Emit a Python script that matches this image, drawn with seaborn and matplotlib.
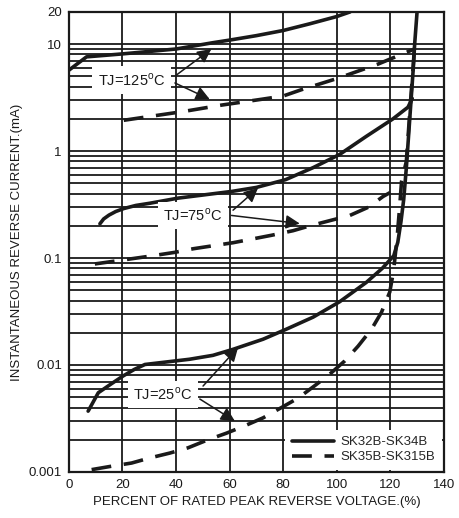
import pandas as pd
import seaborn as sns
import matplotlib.pyplot as plt
from matplotlib.ticker import LogLocator, FixedLocator, NullFormatter, FixedFormatter

# percent of rated peak reverse voltage / reverse current (mA)
x_25_solid = [7.2, 11, 16, 20.3, 24.5, 28.4, 45, 53.8, 61.3, 72.5, 81.2, 91.2, 101.1, 111, 117, 121.3,
              122.8, 124, 125, 126, 127, 127.8, 128.6, 129.1, 130]
y_25_solid = [0.0037, 0.0055, 0.0067, 0.0079, 0.0091, 0.0101, 0.0113, 0.0123, 0.014, 0.0174, 0.0216, 0.028,
              0.039, 0.059, 0.08, 0.105,
              0.14, 0.22, 0.35, 0.7, 1.6, 3.1, 6.0, 10, 20]

x_75_solid = [11.6, 13, 15, 17.5, 20.5, 25, 30.2, 40.8, 61, 70, 80.9, 91.2, 101.1, 111, 121, 126.6, 128.2]
y_75_solid = [0.209, 0.232, 0.252, 0.272, 0.29, 0.31, 0.325, 0.363, 0.42, 0.457, 0.54, 0.70, 0.93, 1.37,
              2.0, 2.57, 3.1]

x_125_solid = [0, 6.6, 20, 40, 53.7, 60, 70, 80, 90, 100, 105]
y_125_solid = [5.7, 7.6, 8.1, 9.0, 10.3, 10.9, 12.0, 13.4, 15.5, 18.1, 20]

x_25_dash = [8.5, 15.9, 23.4, 30.2, 37.7, 44.5, 52, 58.8, 65.7, 72.5, 79.4, 85.6, 91.8, 97.4, 103, 108,
             113, 116.7, 119.8, 121.2, 122.5, 123.5, 124.2, 126, 127.6, 128.5, 129]
y_25_dash = [0.00105, 0.00113, 0.00121, 0.00135, 0.0015, 0.00168, 0.002, 0.0023, 0.0027, 0.0032, 0.004, 0.0049,
             0.0064, 0.0082, 0.0109, 0.015, 0.0216, 0.031, 0.048, 0.075, 0.15, 0.3, 0.52, 0.8, 3.0, 6.0, 9.0]

x_75_dash = [9.7, 30.2, 39.6, 46.4, 61.3, 75.6, 83.7, 90, 104.9, 112, 117.3, 120]
y_75_dash = [0.088, 0.104, 0.113, 0.122, 0.139, 0.163, 0.18, 0.2, 0.25, 0.3, 0.376, 0.41]

x_125_dash = [20.5, 42.6, 57, 72, 80, 87, 100.5, 115.4, 129]
y_125_dash = [1.94, 2.34, 2.69, 3.05, 3.27, 3.76, 4.8, 6.5, 9.0]

parts = ['SK32B-SK34B', 'SK35B-SK315B']

frames = []
for part, temp, xs, ys in [
    (parts[0], '25', x_25_solid, y_25_solid),
    (parts[0], '75', x_75_solid, y_75_solid),
    (parts[0], '125', x_125_solid, y_125_solid),
    (parts[1], '25', x_25_dash, y_25_dash),
    (parts[1], '75', x_75_dash, y_75_dash),
    (parts[1], '125', x_125_dash, y_125_dash),
]:
    frames.append(pd.DataFrame({'pct': xs, 'current': ys, 'part': part, 'temp': temp}))
df = pd.concat(frames, ignore_index=True)

sns.set_style('white')
plt.rcParams['font.family'] = ['Liberation Sans', 'DejaVu Sans']
plt.rcParams['mathtext.fontset'] = 'custom'
plt.rcParams['mathtext.rm'] = 'Liberation Sans'

fig = plt.figure(figsize=(4.59, 5.18), dpi=100)
ax = fig.add_axes([0.150, 0.089, 0.817, 0.888])

sns.lineplot(data=df, x='pct', y='current', style='part', units='temp', estimator=None, sort=False,
             color='#1a1a1a', linewidth=2.6,
             dashes={parts[0]: '', parts[1]: (5.5, 3.5)}, ax=ax, zorder=3)

ax.set_yscale('log')
ax.set_xlim(0, 140)
ax.set_ylim(0.001, 20)

ax.xaxis.set_major_locator(FixedLocator([0, 20, 40, 60, 80, 100, 120, 140]))
ax.yaxis.set_major_locator(FixedLocator([0.001, 0.01, 0.1, 1, 10, 20]))
ax.yaxis.set_major_formatter(FixedFormatter(['0.001', '0.01', '0.1', '1', '10', '20']))
ax.yaxis.set_minor_locator(LogLocator(base=10, subs=[2, 3, 4, 5, 6, 7, 8, 9]))
ax.yaxis.set_minor_formatter(NullFormatter())

ax.grid(which='major', axis='both', color='#1a1a1a', linewidth=1.3)
ax.grid(which='minor', axis='y', color='#1a1a1a', linewidth=1.3)
ax.tick_params(which='both', length=0, labelsize=9.5, pad=5, colors='#1a1a1a')
for s in ax.spines.values():
    s.set_color('#1a1a1a')
    s.set_linewidth(1.6)

ax.set_xlabel('PERCENT OF RATED PEAK REVERSE VOLTAGE.(%)', fontsize=9.5, color='#1a1a1a', labelpad=4)
ax.set_ylabel('INSTANTANEOUS REVERSE CURRENT.(mA)', fontsize=9.5, color='#1a1a1a', labelpad=4)

# temperature callouts
box = dict(facecolor='white', edgecolor='none', pad=4)
arrow = dict(arrowstyle='-|>', color='#1a1a1a', lw=1.1, mutation_scale=21, shrinkA=0, shrinkB=0)
notes = [
    (r'TJ=125$^{\rm o}$C', (23.4, 4.64), [((40.2, 5.15), (53.2, 9.0)), ((39.6, 4.33), (52.6, 3.05))]),
    (r'TJ=75$^{\rm o}$C', (46.4, 0.25), [((61.3, 0.28), (70.6, 0.45)), ((60.7, 0.25), (86.2, 0.21))]),
    (r'TJ=25$^{\rm o}$C', (35.2, 0.0053), [((50.1, 0.00635), (63.2, 0.0146)), ((48.9, 0.0048), (62, 0.00298))]),
]
for label, pos, arrows in notes:
    ax.text(pos[0], pos[1], label, ha='center', va='center', fontsize=10.5, color='#1a1a1a',
            bbox=box, zorder=4)
    for tail, tip in arrows:
        ax.annotate('', xy=tip, xytext=tail, arrowprops=arrow, zorder=5)

handles, labels = ax.get_legend_handles_labels()
leg = ax.legend(handles=handles, labels=labels, loc='lower right', frameon=True, fancybox=False,
                fontsize=9.5, handlelength=3.2, borderaxespad=0.15, borderpad=0.5,
                labelspacing=0.2, handletextpad=0.5)
leg.get_frame().set_edgecolor('none')
leg.get_frame().set_facecolor('white')
leg.get_frame().set_alpha(1)
leg.set_zorder(6)

fig.savefig('out.png', dpi=100)
